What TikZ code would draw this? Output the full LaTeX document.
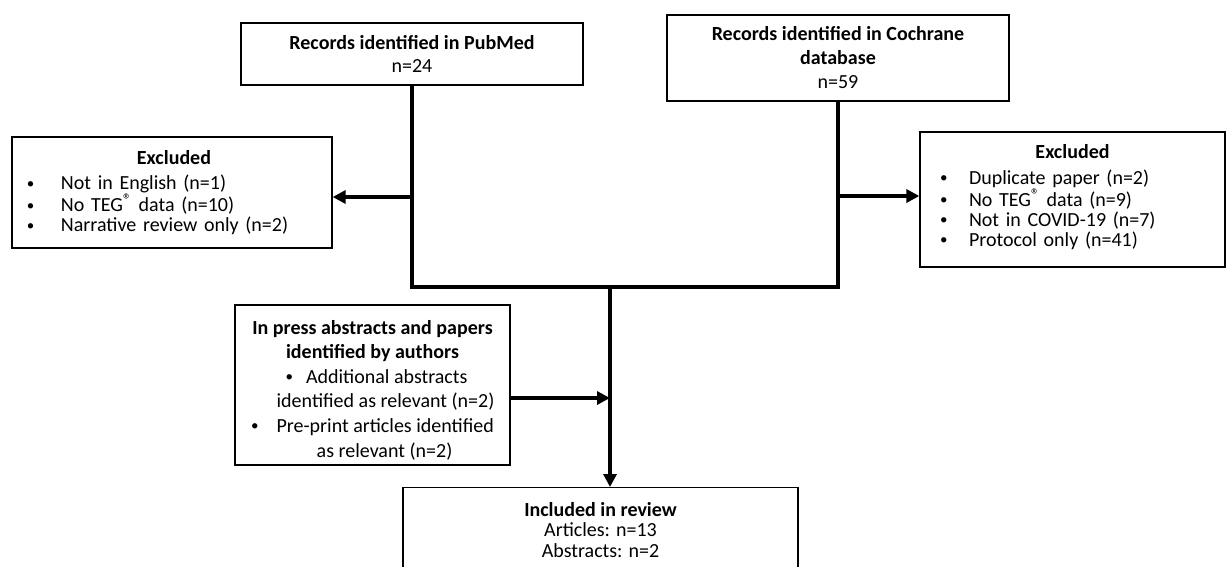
\documentclass[tikz,border=0pt]{standalone}
\usepackage{fontspec}
\setmainfont{Carlito}
\usetikzlibrary{arrows.meta,positioning}
\newcommand{\fsz}[1]{\fontsize{20}{#1}\selectfont}
\tikzset{
  frame/.style={draw=black, line width=1.3pt, fill=white, inner sep=0pt},
  bx/.style={frame, align=center},
  txt/.style={inner sep=0pt, align=center},
  lst/.style={inner sep=0pt, align=left},
  flow/.style={line width=3.8pt, line join=miter, color=black},
  arr/.style={flow, -{Triangle[length=13pt, width=13pt]}},
}
\newcommand{\dotb}{\raisebox{0.08em}{\scalebox{0.75}{\textbullet}}}
\newcommand{\itm}[2]{\makebox[#1][l]{\dotb}#2}
\newcommand{\ctr}{\hspace*{0pt plus 1fil}}
\newcommand{\reg}{\textsuperscript{\raisebox{-0.1em}{\scalebox{1.2}{\textregistered}}}}

\begin{document}
\begin{tikzpicture}[x=1pt, y=-1pt]
  \useasboundingbox (0,0) rectangle (1226,566);
  \clip (0,0) rectangle (1226,566);
  % sources
  \node[bx, minimum width=342, minimum height=62, font=\fsz{23}] (pub) at (412,54)
    {\textbf{Records identified in PubMed}\\n=24};
  \node[bx, minimum width=342, minimum height=86, font=\fsz{24}] (coch) at (838,58)
    {\textbf{Records identified in Cochrane}\\\textbf{database}\\n=59};
  % exclusions
  \node[frame, minimum width=320, minimum height=111] (exL) at (172,192.5) {};
  \node[lst, text width=294, font=\fsz{19.8}] (exLt) at (174,192.5)
    {\ctr\textbf{Excluded}\\[6pt]
     \itm{34pt}{Not in English (n=1)}\\
     \itm{34pt}{No TEG\reg{} data (n=10)}\\
     \itm{34pt}{Narrative review only (n=2)}};
  \node[frame, minimum width=305, minimum height=135] (exR) at (1072.5,199.5) {};
  \node[lst, text width=265, font=\fsz{20}] (exRt) at (1072.5,197)
    {\ctr\textbf{Excluded}\\[6pt]
     \itm{29pt}{Duplicate paper (n=2)}\\
     \itm{29pt}{No TEG\reg{} data (n=9)}\\
     \itm{29pt}{Not in COVID-19 (n=7)}\\
     \itm{29pt}{Protocol only (n=41)}};
  % added by authors
  \node[frame, minimum width=275, minimum height=160] (press) at (372.5,385) {};
  \node[txt, font=\fsz{24.6}] (presst) at (372.5,390)
    {\textbf{In press abstracts and papers}\\
     \textbf{identified by authors}\\
     \hspace*{8pt}\dotb\hspace{13pt}Additional abstracts\\
     \hspace*{26pt}identified as relevant (n=2)\\
     \dotb\hspace{18pt}Pre-print articles identified\\
     \hspace*{24pt}as relevant (n=2)};
  % included
  \node[frame, minimum width=395, minimum height=160, anchor=north] (incl) at (600.5,487) {};
  \node[txt, anchor=north, font=\fsz{20.5}] (inclt) at ([yshift=-15pt]incl.north)
    {\textbf{Included in review}\\Articles: n=13\\Abstracts: n=2};
  % connectors
  \coordinate (mid) at (610,287);
  \coordinate (outL) at ([yshift=-4.5pt]exL.east);
  \coordinate (outR) at ([yshift=3.5pt]exR.west);
  \coordinate (pin) at ([yshift=-13pt]press.east);
  \draw[flow] (pub.south) |- (mid) -| (coch.south);
  \draw[arr] (pub.south |- outL) -- (outL);
  \draw[arr] (coch.south |- outR) -- (outR);
  \draw[arr] (pin) -- (mid |- pin);
  \draw[arr] (mid) -- (mid |- incl.north);
\end{tikzpicture}
\end{document}
